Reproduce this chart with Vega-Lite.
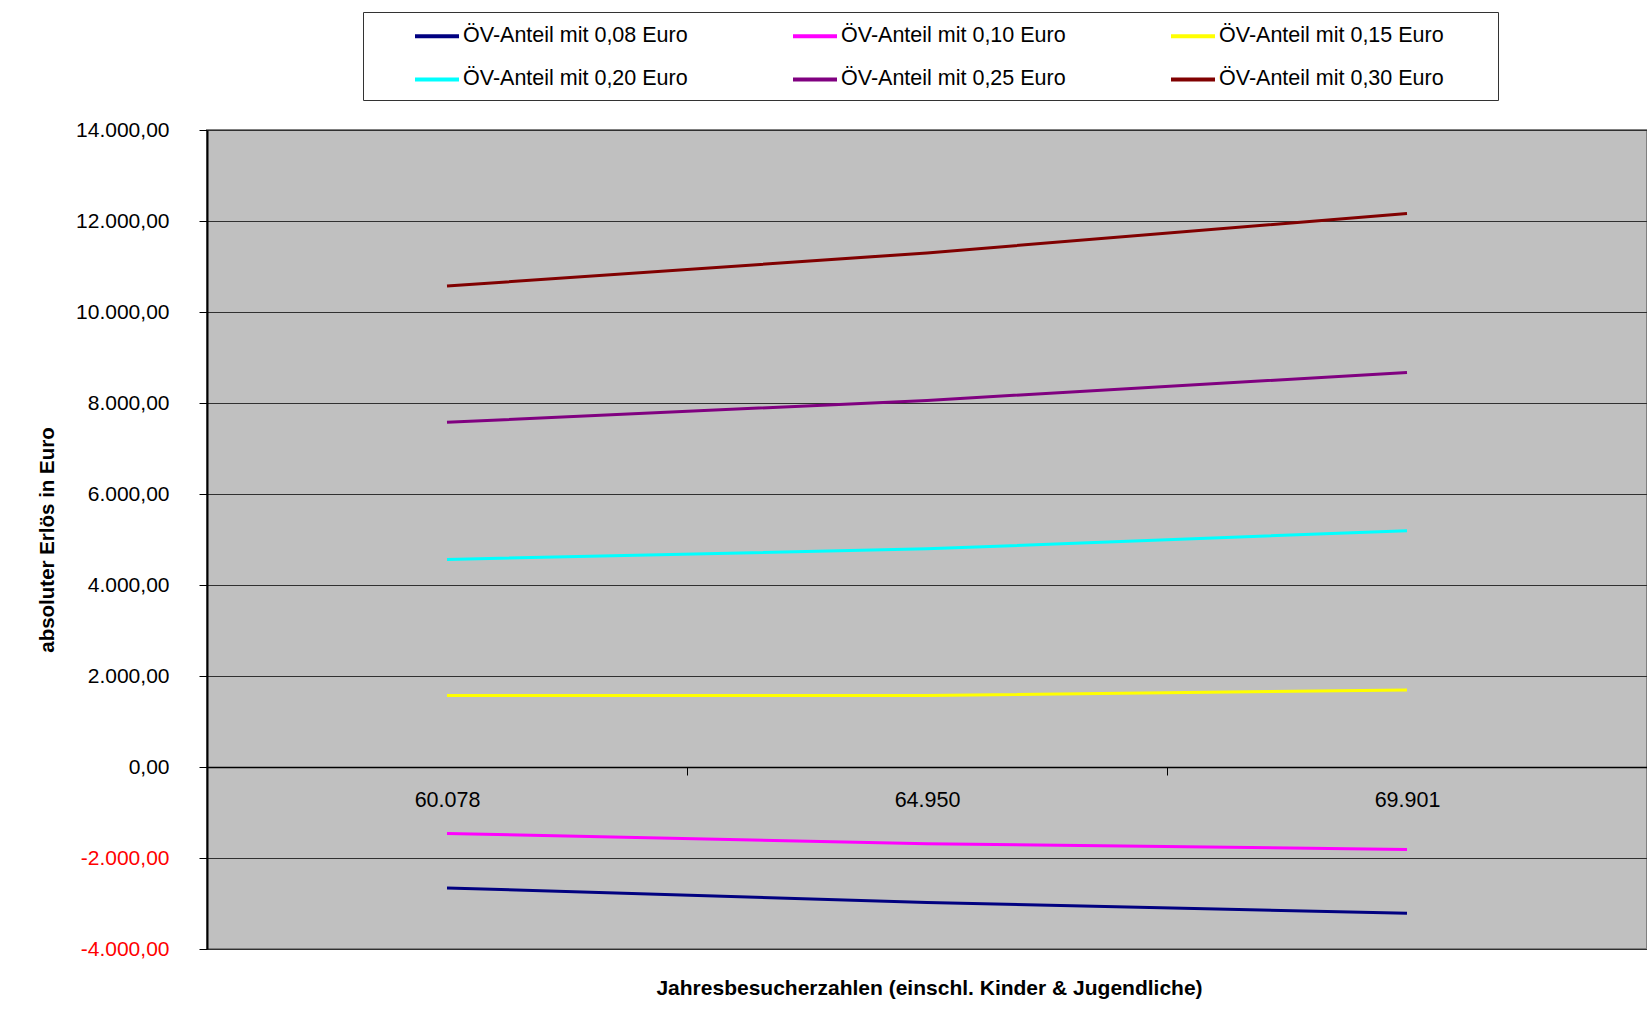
{
  "$schema": "https://vega.github.io/schema/vega-lite/v6.json",
  "width": 1440,
  "height": 819,
  "autosize": "none",
  "padding": {"left": 207, "top": 130, "right": 0, "bottom": 76},
  "background": "white",
  "data": {
    "values": [
      {"Besucher": "60.078", "Serie": "ÖV-Anteil mit 0,08 Euro", "Erloes": -2657},
      {"Besucher": "64.950", "Serie": "ÖV-Anteil mit 0,08 Euro", "Erloes": -2979},
      {"Besucher": "69.901", "Serie": "ÖV-Anteil mit 0,08 Euro", "Erloes": -3216},
      {"Besucher": "60.078", "Serie": "ÖV-Anteil mit 0,10 Euro", "Erloes": -1461},
      {"Besucher": "64.950", "Serie": "ÖV-Anteil mit 0,10 Euro", "Erloes": -1687},
      {"Besucher": "69.901", "Serie": "ÖV-Anteil mit 0,10 Euro", "Erloes": -1812},
      {"Besucher": "60.078", "Serie": "ÖV-Anteil mit 0,15 Euro", "Erloes": 1569},
      {"Besucher": "64.950", "Serie": "ÖV-Anteil mit 0,15 Euro", "Erloes": 1572},
      {"Besucher": "69.901", "Serie": "ÖV-Anteil mit 0,15 Euro", "Erloes": 1693},
      {"Besucher": "60.078", "Serie": "ÖV-Anteil mit 0,20 Euro", "Erloes": 4563},
      {"Besucher": "64.950", "Serie": "ÖV-Anteil mit 0,20 Euro", "Erloes": 4795},
      {"Besucher": "69.901", "Serie": "ÖV-Anteil mit 0,20 Euro", "Erloes": 5194},
      {"Besucher": "60.078", "Serie": "ÖV-Anteil mit 0,25 Euro", "Erloes": 7575},
      {"Besucher": "64.950", "Serie": "ÖV-Anteil mit 0,25 Euro", "Erloes": 8057},
      {"Besucher": "69.901", "Serie": "ÖV-Anteil mit 0,25 Euro", "Erloes": 8670},
      {"Besucher": "60.078", "Serie": "ÖV-Anteil mit 0,30 Euro", "Erloes": 10570},
      {"Besucher": "64.950", "Serie": "ÖV-Anteil mit 0,30 Euro", "Erloes": 11299},
      {"Besucher": "69.901", "Serie": "ÖV-Anteil mit 0,30 Euro", "Erloes": 12166}
    ]
  },
  "mark": {"type": "line", "strokeWidth": 3, "strokeCap": "butt"},
  "encoding": {
    "x": {
      "field": "Besucher",
      "type": "nominal",
      "sort": ["60.078", "64.950", "69.901"],
      "scale": {"type": "band", "paddingInner": 0, "paddingOuter": 0},
      "bandPosition": 0.5,
      "axis": {
        "orient": "bottom",
        "offset": -182,
        "tickBand": "extent",
        "grid": false,
        "labelAngle": 0,
        "domainColor": "black",
        "domainWidth": 1.5,
        "tickColor": "black",
        "tickSize": 8,
        "tickWidth": 1,
        "labelPadding": 14,
        "labelFont": "Liberation Sans",
        "labelFontSize": 21.5,
        "labelColor": "black",
        "title": "Jahresbesucherzahlen (einschl. Kinder & Jugendliche)",
        "titleFont": "Liberation Sans",
        "titleFontSize": 21,
        "titleFontWeight": "bold",
        "titleColor": "black",
        "titleX": 722,
        "titleY": 221,
        "titleAlign": "center",
        "titleBaseline": "middle"
      }
    },
    "y": {
      "field": "Erloes",
      "type": "quantitative",
      "scale": {"domain": [-4000, 14000], "nice": false, "zero": false},
      "axis": {
        "orient": "left",
        "values": [-4000, -2000, 0, 2000, 4000, 6000, 8000, 10000, 12000, 14000],
        "format": ",.2f",
        "grid": true,
        "gridColor": "#303030",
        "gridWidth": 1,
        "domainColor": "black",
        "domainWidth": 2,
        "tickColor": "black",
        "tickSize": 8,
        "labelPadding": 30,
        "labelFont": "Liberation Sans",
        "labelFontSize": 21,
        "labelColor": {"condition": {"test": "datum.value < 0", "value": "#FF0000"}, "value": "black"},
        "title": "absoluter Erlös in Euro",
        "titleFont": "Liberation Sans",
        "titleFontSize": 20.5,
        "titleFontWeight": "bold",
        "titleColor": "black",
        "titleX": -160,
        "titleY": 409.5,
        "titleAngle": -90,
        "titleAlign": "center",
        "titleBaseline": "middle"
      }
    },
    "color": {
      "field": "Serie",
      "type": "nominal",
      "scale": {
        "domain": ["ÖV-Anteil mit 0,08 Euro", "ÖV-Anteil mit 0,10 Euro", "ÖV-Anteil mit 0,15 Euro", "ÖV-Anteil mit 0,20 Euro", "ÖV-Anteil mit 0,25 Euro", "ÖV-Anteil mit 0,30 Euro"],
        "range": ["#000080", "#FF00FF", "#FFFF00", "#00FFFF", "#800080", "#800000"]
      },
      "legend": {
        "orient": "none",
        "legendX": 156,
        "legendY": -118,
        "direction": "horizontal",
        "columns": 3,
        "title": " ",
        "titleOrient": "right",
        "titleFontSize": 88,
        "titleAnchor": "start",
        "titleBaseline": "top",
        "titleLimit": 1000,
        "titlePadding": 54,
        "symbolType": "stroke",
        "symbolSize": 1936,
        "symbolStrokeWidth": 4,
        "symbolOffset": 50,
        "labelOffset": 2,
        "labelFont": "Liberation Sans",
        "labelFontSize": 21.5,
        "labelColor": "black",
        "labelLimit": 400,
        "columnPadding": 53,
        "rowPadding": 8.4,
        "padding": 0,
        "strokeColor": "#333333",
        "fillColor": "white",
        "gridAlign": "all"
      }
    }
  },
  "config": {
    "locale": {
      "number": {"decimal": ",", "thousands": ".", "grouping": [3], "currency": ["", " €"], "minus": "-"}
    },
    "view": {"fill": "#C0C0C0", "stroke": "#808080", "strokeWidth": 2}
  }
}
